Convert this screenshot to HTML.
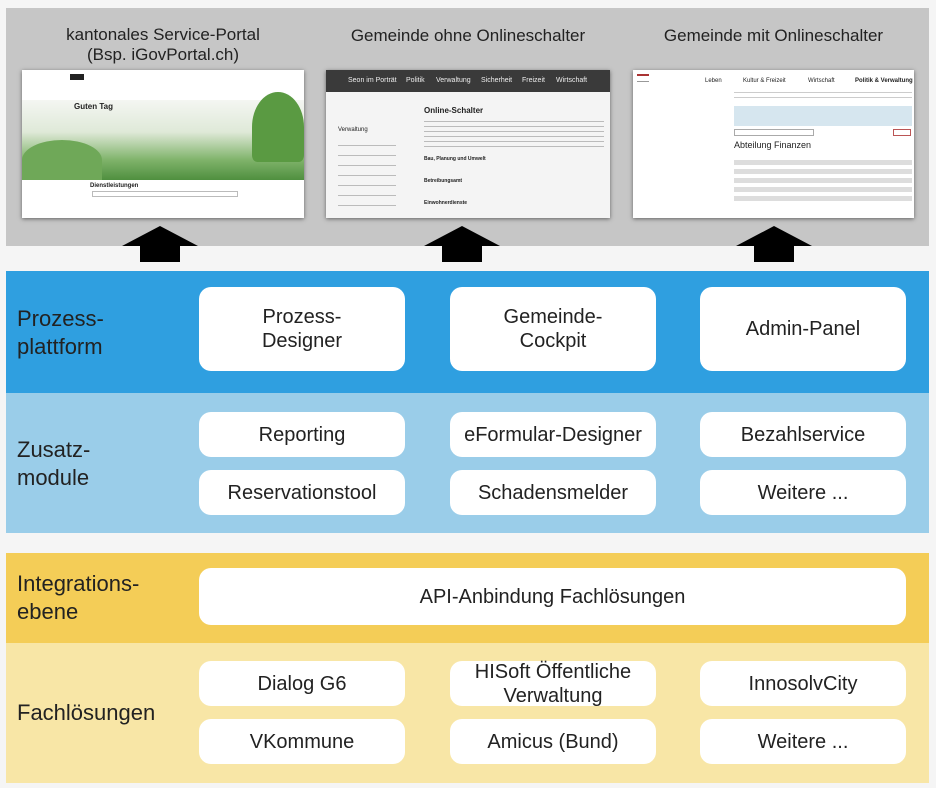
<!DOCTYPE html>
<html><head><meta charset="utf-8"><style>
*{margin:0;padding:0;box-sizing:border-box}
body{width:936px;height:788px;background:#f5f5f5;position:relative;overflow:hidden;font-family:"Liberation Sans",sans-serif;color:#222}
.a{position:absolute}
.box{position:absolute;background:#fff;border-radius:12px;display:flex;align-items:center;justify-content:center;text-align:center;font-size:20px;line-height:24px;color:#222}
.lbl{position:absolute;left:17px;font-size:22px;line-height:28px;color:#222}
.title{position:absolute;font-size:17px;line-height:20px;text-align:center;color:#222}
.shot{position:absolute;background:#fff;box-shadow:0 1px 4px rgba(0,0,0,.5);overflow:hidden}
.t{position:absolute;font-size:5px;color:#555;white-space:nowrap}
</style></head><body>
<div class="a" style="left:6px;top:8px;width:923px;height:238px;background:#c6c6c6"></div>
<div class="title" style="left:22px;top:25px;width:282px">kantonales Service-Portal<br>(Bsp. iGovPortal.ch)</div>
<div class="title" style="left:326px;top:26px;width:284px">Gemeinde ohne Onlineschalter</div>
<div class="title" style="left:633px;top:26px;width:281px">Gemeinde mit Onlineschalter</div>

<div class="shot" style="left:22px;top:70px;width:282px;height:148px">
 <div class="a" style="left:48px;top:4px;width:14px;height:6px;background:#222"></div>
 <div class="a" style="left:0;top:30px;width:282px;height:80px;background:linear-gradient(180deg,#f4f6f2 0%,#dfe9d8 40%,#7fb36a 75%,#4f8f3f 100%)"></div>
 <div class="a" style="left:230px;top:22px;width:52px;height:70px;background:#5a9a42;border-radius:50% 50% 10% 10%"></div>
 <div class="a" style="left:0;top:70px;width:80px;height:40px;background:#6fa858;border-radius:50% 50% 0 0"></div>
 <div class="t" style="left:52px;top:32px;font-size:8px;font-weight:bold;color:#222">Guten Tag</div>
 <div class="a" style="left:63px;top:110px;width:156px;height:38px;background:#fff"></div>
 <div class="t" style="left:68px;top:113px;font-size:6px;font-weight:bold;color:#222">Dienstleistungen</div>
 <div class="a" style="left:70px;top:121px;width:146px;height:6px;border:1px solid #bbb"></div>
</div>

<div class="shot" style="left:326px;top:70px;width:284px;height:148px;background:#f4f4f4">
 <div class="a" style="left:0;top:0;width:284px;height:22px;background:#3a3a3a"></div>
 <div class="t" style="left:22px;top:7px;font-size:7px;color:#eee">Seon im Porträt</div>
 <div class="t" style="left:80px;top:7px;font-size:7px;color:#eee">Politik</div>
 <div class="t" style="left:110px;top:7px;font-size:7px;color:#eee">Verwaltung</div>
 <div class="t" style="left:155px;top:7px;font-size:7px;color:#eee">Sicherheit</div>
 <div class="t" style="left:196px;top:7px;font-size:7px;color:#eee">Freizeit</div>
 <div class="t" style="left:230px;top:7px;font-size:7px;color:#eee">Wirtschaft</div>
 <div class="t" style="left:98px;top:36px;font-size:8px;font-weight:bold;color:#222">Online-Schalter</div>
 <div class="t" style="left:12px;top:57px;font-size:6px;color:#222">Verwaltung</div>
 <div class="a" style="left:98px;top:49px;width:180px;height:30px;background:repeating-linear-gradient(#f4f4f4 0 2px,#bbb 2px 3px,#f4f4f4 3px 5px)"></div>
 <div class="t" style="left:98px;top:86px;font-weight:bold;color:#222">Bau, Planung und Umwelt</div>
 <div class="t" style="left:98px;top:108px;font-weight:bold;color:#222">Betreibungsamt</div>
 <div class="t" style="left:98px;top:130px;font-weight:bold;color:#222">Einwohnerdienste</div>
 <div class="a" style="left:12px;top:68px;width:58px;height:75px;background:repeating-linear-gradient(#f4f4f4 0 7px,#bbb 7px 8px,#f4f4f4 8px 10px)"></div>
</div>

<div class="shot" style="left:633px;top:70px;width:281px;height:148px">
 <div class="a" style="left:4px;top:4px;width:12px;height:8px;border-top:2px solid #a33;border-bottom:1px solid #999"></div>
 <div class="t" style="left:72px;top:8px;font-size:6px;color:#222">Leben</div>
 <div class="t" style="left:110px;top:8px;font-size:6px;color:#222">Kultur &amp; Freizeit</div>
 <div class="t" style="left:175px;top:8px;font-size:6px;color:#222">Wirtschaft</div>
 <div class="t" style="left:222px;top:8px;font-size:6px;font-weight:bold;color:#222">Politik &amp; Verwaltung</div>
 <div class="a" style="left:101px;top:18px;width:178px;height:12px;background:repeating-linear-gradient(#fff 0 4px,#ccc 4px 5px)"></div>
 <div class="a" style="left:101px;top:36px;width:178px;height:20px;background:#d6e6ef"></div>
 <div class="a" style="left:101px;top:59px;width:80px;height:7px;border:1px solid #aaa"></div>
 <div class="a" style="left:260px;top:59px;width:18px;height:7px;border:1px solid #b55"></div>
 <div class="t" style="left:101px;top:70px;font-size:9px;color:#222">Abteilung Finanzen</div>
 <div class="a" style="left:101px;top:86px;width:178px;height:48px;background:repeating-linear-gradient(#fff 0 4px,#ddd 4px 9px)"></div>
</div>

<svg class="a" style="left:0;top:0" width="936" height="270">
 <polygon points="122,246 160,226 198,246 180,246 180,262 140,262 140,246" fill="#000"/>
 <polygon points="424,246 462,226 500,246 482,246 482,262 442,262 442,246" fill="#000"/>
 <polygon points="736,246 774,226 812,246 794,246 794,262 754,262 754,246" fill="#000"/>
</svg>

<div class="a" style="left:6px;top:271px;width:923px;height:122px;background:#2f9fe0"></div>
<div class="a" style="left:6px;top:393px;width:923px;height:140px;background:#9acde9"></div>
<div class="a" style="left:6px;top:553px;width:923px;height:90px;background:#f4cd57"></div>
<div class="a" style="left:6px;top:643px;width:923px;height:140px;background:#f8e6a6"></div>

<div class="lbl" style="top:305px">Prozess-<br>plattform</div>
<div class="lbl" style="top:436px">Zusatz-<br>module</div>
<div class="lbl" style="top:570px">Integrations-<br>ebene</div>
<div class="lbl" style="top:699px">Fachlösungen</div>

<div class="box" style="left:199px;top:287px;width:206px;height:84px">Prozess-<br>Designer</div>
<div class="box" style="left:450px;top:287px;width:206px;height:84px">Gemeinde-<br>Cockpit</div>
<div class="box" style="left:700px;top:287px;width:206px;height:84px">Admin-Panel</div>

<div class="box" style="left:199px;top:412px;width:206px;height:45px">Reporting</div>
<div class="box" style="left:450px;top:412px;width:206px;height:45px">eFormular-Designer</div>
<div class="box" style="left:700px;top:412px;width:206px;height:45px">Bezahlservice</div>
<div class="box" style="left:199px;top:470px;width:206px;height:45px">Reservationstool</div>
<div class="box" style="left:450px;top:470px;width:206px;height:45px">Schadensmelder</div>
<div class="box" style="left:700px;top:470px;width:206px;height:45px">Weitere ...</div>

<div class="box" style="left:199px;top:568px;width:707px;height:57px">API-Anbindung Fachlösungen</div>

<div class="box" style="left:199px;top:661px;width:206px;height:45px">Dialog G6</div>
<div class="box" style="left:450px;top:661px;width:206px;height:45px">HISoft Öffentliche<br>Verwaltung</div>
<div class="box" style="left:700px;top:661px;width:206px;height:45px">InnosolvCity</div>
<div class="box" style="left:199px;top:719px;width:206px;height:45px">VKommune</div>
<div class="box" style="left:450px;top:719px;width:206px;height:45px">Amicus (Bund)</div>
<div class="box" style="left:700px;top:719px;width:206px;height:45px">Weitere ...</div>
</body></html>
